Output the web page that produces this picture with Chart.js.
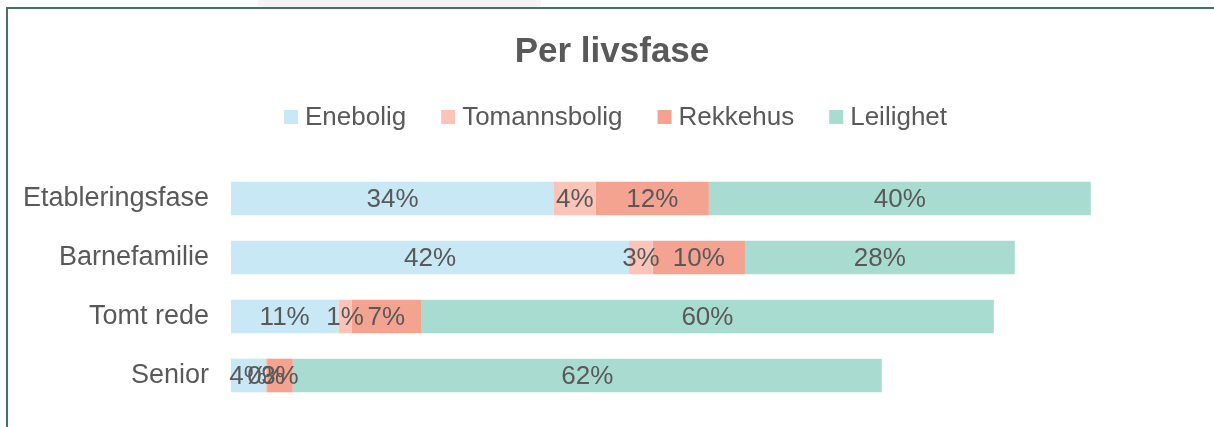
<!DOCTYPE html>
<html>
<head>
<meta charset="utf-8">
<script src="https://cdn.jsdelivr.net/npm/chart.js@4/dist/chart.umd.min.js"></script>
<style>
  html, body { margin: 0; padding: 0; background: #ffffff; overflow: hidden; }
  #wrap { position: relative; width: 1214px; height: 427px; }
  #frame { position: absolute; left: 6px; top: 7px; width: 1300px; height: 600px;
           border-left: 2px solid #4a6f67; border-top: 2px solid #4a6f67; box-sizing: border-box; }
  #grey { position: absolute; left: 258px; top: 0; width: 283px; height: 7px; background: #f3f3f3; }
  canvas { position: absolute; left: 0; top: 0; }
</style>
</head>
<body>
<div id="wrap">
  <div id="grey"></div>
  <div id="frame"></div>
  <canvas id="c" width="1214" height="427"></canvas>
</div>
<script>
const chartTitle = "Per livsfase";
const categories = ["Etableringsfase", "Barnefamilie", "Tomt rede", "Senior"];
const seriesNames = ["Enebolig", "Tomannsbolig", "Rekkehus", "Leilighet"];
const enebolig = [34.0, 41.9, 11.3, 3.6];
const tomannsbolig = [4.4, 2.5, 1.4, 0.2];
const rekkehus = [11.9, 9.7, 7.3, 2.7];
const leilighet = [40.2, 28.4, 60.3, 62.0];
const seriesColors = ["#c8e8f5", "#fac4b9", "#f5a391", "#a9dcd0"];

const TEXT = "#595959";
const FONT = "'Liberation Sans', Arial, sans-serif";

const seriesValues = [enebolig, tomannsbolig, rekkehus, leilighet];

const labelsPlugin = {
  id: "segLabels",
  afterDatasetsDraw(chart) {
    const ctx = chart.ctx;
    ctx.save();
    ctx.font = "26px " + FONT;
    ctx.fillStyle = TEXT;
    ctx.textAlign = "center";
    ctx.textBaseline = "middle";
    chart.data.datasets.forEach((ds, di) => {
      const meta = chart.getDatasetMeta(di);
      meta.data.forEach((el, i) => {
        const p = el.getProps(["x", "y", "base"], true);
        const cx = (p.x + p.base) / 2;
        ctx.fillText(Math.round(ds.data[i]) + "%", cx, p.y + 1);
      });
    });
    ctx.restore();
  }
};

const headPlugin = {
  id: "head",
  afterDraw(chart) {
    const ctx = chart.ctx;
    ctx.save();
    // title
    ctx.font = "bold 35px " + FONT;
    ctx.fillStyle = TEXT;
    ctx.textAlign = "center";
    ctx.textBaseline = "middle";
    ctx.fillText(chartTitle, 612, 52);
    // legend
    ctx.font = "26px " + FONT;
    const box = 14, gapBT = 7, gapItem = 35;
    const widths = chart.data.datasets.map(d => ctx.measureText(d.label).width);
    let total = 0;
    widths.forEach((w, i) => { total += box + gapBT + w + (i < widths.length - 1 ? gapItem : 0); });
    let x = 615.5 - total / 2;
    const cy = 117;
    ctx.textAlign = "left";
    chart.data.datasets.forEach((d, i) => {
      ctx.fillStyle = d.backgroundColor;
      ctx.fillRect(x, cy - box / 2, box, box);
      ctx.fillStyle = TEXT;
      ctx.fillText(d.label, x + box + gapBT, cy + 1);
      x += box + gapBT + widths[i] + gapItem;
    });
    ctx.restore();
  }
};

new Chart(document.getElementById("c"), {
  type: "bar",
  data: {
    labels: categories,
    datasets: seriesNames.map((n, i) => ({
      label: n,
      data: seriesValues[i],
      backgroundColor: seriesColors[i],
      borderWidth: 0,
      barPercentage: 0.57,
      categoryPercentage: 1.0
    }))
  },
  options: {
    indexAxis: "y",
    responsive: false,
    animation: false,
    layout: { padding: { left: 0, right: 33, top: 169, bottom: 22 } },
    plugins: {
      legend: { display: false },
      title: { display: false },
      tooltip: { enabled: false }
    },
    scales: {
      x: { stacked: true, min: 0, max: 100, display: false },
      y: {
        stacked: true,
        grid: { display: false, drawTicks: false },
        border: { display: false },
        ticks: { color: TEXT, font: { family: FONT, size: 27 }, padding: 22 },
        afterFit(scale) {
          scale.width = 231;
          scale.paddingTop = 0;
          scale.paddingBottom = 0;
        }
      }
    }
  },
  plugins: [labelsPlugin, headPlugin]
});
</script>
</body>
</html>
